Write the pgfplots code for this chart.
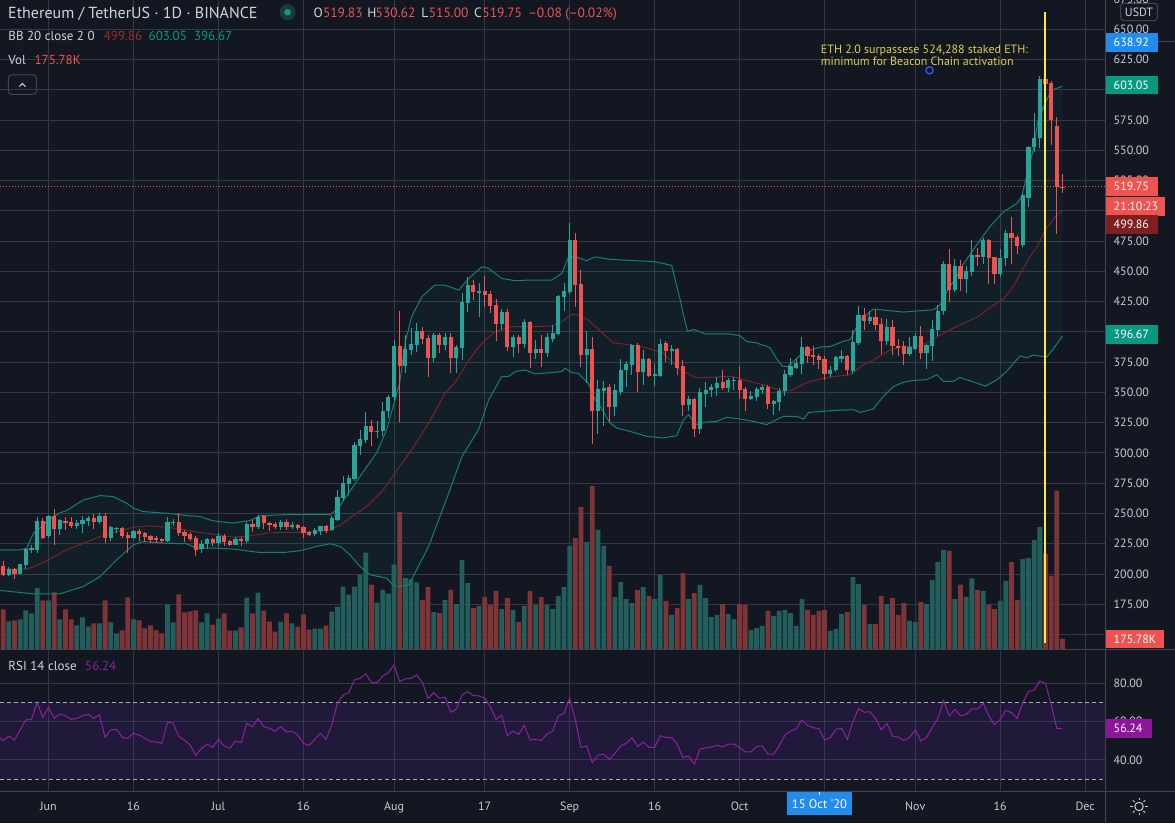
\documentclass[border=0pt]{standalone}
\usepackage{fontspec}
\setmainfont{PT Sans}
\usepackage{pgfplots}
\pgfplotsset{compat=1.18}
\usepackage{pgfplotstable}

\definecolor{bg}{RGB}{19,23,34}
\definecolor{gridc}{RGB}{52,56,68}
\definecolor{sepc}{RGB}{67,70,81}
\definecolor{axtext}{RGB}{200,203,210}
\definecolor{hdtext}{RGB}{209,212,220}
\definecolor{upc}{RGB}{38,166,154}
\definecolor{dnc}{RGB}{239,83,80}
\definecolor{volup}{RGB}{33,94,92}
\definecolor{voldn}{RGB}{127,52,56}
\definecolor{bbband}{RGB}{22,128,112}
\definecolor{bbmid}{RGB}{118,36,39}
\definecolor{bbfillc}{RGB}{34,171,148}
\definecolor{tealbox}{RGB}{8,153,129}
\definecolor{midbox}{RGB}{128,31,31}
\definecolor{midtxt}{RGB}{150,45,45}
\definecolor{bluebox}{RGB}{33,140,235}
\definecolor{rsiline}{RGB}{140,34,158}
\definecolor{rsibox}{RGB}{142,21,153}
\definecolor{rsiband}{RGB}{112,43,194}
\definecolor{dashc}{RGB}{170,173,182}
\definecolor{annot}{RGB}{222,208,72}
\definecolor{yline}{RGB}{255,235,59}
\definecolor{dotbg}{RGB}{28,56,58}
\definecolor{circblue}{RGB}{41,98,255}

\newcommand{\fs}[1]{\fontsize{#1pt}{#1pt}\selectfont}

\pgfplotstableread{
i O H L C V
-7 199.3 205.5 198.0 204.5 476
-5 200.4 208.6 199.8 208.1 511
-4 207.5 221.9 204.2 221.0 666
-3 220.0 224.0 217.2 221.2 614
-2 219.7 247.5 217.7 244.2 1049
0 231.0 249.0 230.0 248.0 838
2 237.0 245.5 232.3 244.7 511
5 240.0 244.7 237.3 242.5 408
6 241.4 248.0 234.0 244.7 545
7 243.9 248.0 240.0 246.6 390
9 242.8 250.2 241.4 248.0 442
11 229.8 239.8 227.4 238.7 459
12 237.4 239.2 233.7 238.4 270
15 230.1 236.4 229.0 235.6 511
21 227.4 247.5 226.8 243.3 769
22 242.0 245.3 239.8 243.2 459
27 220.5 228.4 217.7 225.0 456
28 224.5 229.7 220.9 228.7 614
30 225.3 233.8 223.0 231.6 521
33 224.2 230.5 223.6 229.1 315
35 226.9 242.6 226.0 241.5 882
37 238.5 249.0 237.1 247.0 968
41 239.1 244.3 236.0 243.0 470
43 239.1 242.6 237.1 240.7 442
47 233.0 238.0 231.6 236.0 349
48 235.2 240.0 232.4 239.4 349
50 236.0 247.6 235.2 245.9 642
51 244.8 269.6 243.4 263.6 728
52 262.8 280.7 260.0 275.2 1072
53 274.5 282.1 265.5 279.3 934
54 278.7 309.0 277.0 306.3 1072
55 305.5 319.2 298.6 311.8 1278
56 311.0 334.1 308.0 322.6 1656
58 317.0 326.1 312.4 318.4 796
59 317.9 341.8 313.7 335.0 1020
60 334.4 348.2 328.9 346.3 951
61 346.3 393.7 342.7 388.1 1453
63 372.2 397.4 366.4 385.9 1221
64 385.1 403.0 381.0 390.0 1204
65 389.2 407.1 383.7 400.8 1147
68 378.8 398.8 375.5 397.4 636
70 389.2 398.8 385.0 396.1 843
72 378.8 389.2 365.8 387.8 774
73 387.0 431.8 376.8 425.0 1531
74 424.1 445.6 416.7 438.7 1135
76 432.4 440.1 412.6 433.8 740
80 406.5 418.6 401.6 416.2 688
82 387.8 397.4 379.6 396.1 671
84 390.0 410.6 386.5 408.4 740
86 382.9 393.3 377.4 385.9 757
88 382.9 398.8 379.6 396.1 757
89 394.2 405.7 392.0 398.8 688
90 398.3 430.5 397.4 429.6 912
91 429.1 440.1 417.5 434.0 1066
92 433.2 489.6 431.0 475.8 1772
95 381.3 401.0 358.0 386.2 1840
97 335.0 360.6 316.0 353.1 2047
98 351.6 359.8 322.6 353.7 1772
100 337.7 357.0 330.3 351.8 894
101 350.4 377.7 347.7 368.9 1152
102 368.3 375.7 354.5 373.8 860
103 373.0 390.1 364.7 389.0 791
105 366.7 385.4 355.9 378.0 1066
107 363.9 373.8 355.1 365.5 860
108 363.9 394.5 362.8 390.1 1273
110 384.6 389.5 372.4 386.2 585
113 339.9 347.4 335.0 344.9 860
115 320.1 353.7 315.9 350.1 1101
116 349.0 358.7 337.7 352.3 877
117 351.8 357.0 346.0 354.5 550
118 353.7 362.5 346.8 357.8 585
120 353.7 362.0 350.1 360.6 602
121 359.8 362.5 351.8 360.6 516
124 344.9 351.0 343.5 346.8 327
125 346.0 354.2 343.2 353.1 361
126 352.3 356.5 349.0 354.2 396
128 340.7 344.0 331.6 342.7 568
129 341.8 353.6 334.4 351.4 654
130 350.9 368.8 347.3 365.5 671
131 364.6 378.4 363.0 371.5 619
132 370.2 377.6 369.3 374.3 396
133 373.7 395.5 365.5 387.2 860
138 365.5 371.5 362.7 368.8 310
139 368.2 379.8 366.8 379.0 344
140 377.9 384.7 375.1 379.8 602
142 367.9 401.8 365.5 391.3 1238
143 390.8 421.6 389.0 414.2 1118
145 409.2 417.5 406.7 412.3 430
148 392.2 410.6 389.4 404.0 774
152 382.0 395.5 379.8 387.2 482
153 386.1 399.0 385.3 396.8 464
155 382.5 390.0 369.6 388.9 774
156 388.0 409.5 376.2 402.6 1187
157 401.8 421.9 396.3 417.5 1496
158 416.9 458.8 414.2 456.3 1703
160 434.8 460.4 432.6 454.6 860
162 443.9 454.6 432.0 450.5 894
163 449.5 475.9 446.0 463.2 1213
165 462.1 477.9 456.3 475.9 998
168 447.7 468.3 445.0 460.8 826
169 460.8 484.4 454.6 482.0 1170
172 471.7 514.8 470.0 513.0 1548
173 511.0 553.6 503.3 552.5 1565
174 552.5 580.9 548.9 559.8 1875
175 559.8 611.3 551.6 608.9 2098
}\candleup

\pgfplotstableread{
i O H L C V
-8 206.7 211.1 198.5 199.3 683
-6 204.2 205.0 196.3 200.1 494
-1 244.2 246.0 229.0 230.1 838
1 248.0 253.5 224.3 237.0 975
3 244.2 247.5 236.0 242.0 683
4 242.8 247.5 237.8 239.8 511
8 246.0 249.4 237.3 242.8 442
10 248.0 250.2 226.0 229.6 838
13 238.4 239.2 229.6 231.5 322
14 232.3 235.0 217.7 230.1 889
16 235.6 237.0 227.4 233.2 494
17 234.3 235.0 226.8 230.4 356
18 231.8 232.3 226.0 228.2 408
19 229.6 231.0 225.4 228.5 322
20 229.0 230.0 225.4 227.4 270
23 243.3 250.2 231.8 234.3 941
24 235.0 236.4 226.8 231.5 631
25 232.9 235.0 227.4 228.8 648
26 229.6 231.5 215.0 220.0 666
29 228.7 229.7 223.0 225.3 418
31 231.6 232.7 223.0 226.1 614
32 226.9 228.3 223.3 224.2 315
34 229.1 230.2 223.0 226.9 373
36 241.5 244.3 234.4 238.5 614
38 247.6 249.0 237.0 242.0 659
39 242.0 242.8 235.2 240.7 470
40 241.5 242.6 237.1 238.8 298
42 243.0 245.6 236.6 238.8 614
44 240.7 241.5 236.6 238.0 384
45 238.8 240.0 229.4 233.9 597
46 234.4 235.2 231.0 232.1 332
49 239.4 240.7 233.9 235.8 401
57 322.6 327.5 305.5 317.0 1106
62 388.1 417.1 325.3 372.2 2356
66 400.8 403.8 390.0 394.2 843
67 395.3 397.4 362.5 378.8 1066
69 397.4 399.4 382.9 389.2 619
71 396.1 398.8 366.4 378.8 1015
75 438.7 442.8 426.3 432.7 705
77 433.8 446.1 420.3 430.5 894
78 431.3 433.8 415.3 421.7 757
79 422.2 427.2 392.8 406.5 998
81 416.2 418.6 384.5 387.8 877
83 396.1 397.4 382.9 390.0 464
85 408.4 409.3 370.0 382.9 998
87 385.9 397.4 371.3 382.9 894
93 475.8 481.9 420.3 438.7 1909
94 439.5 451.0 371.3 381.3 2442
96 386.2 395.6 307.7 335.0 2804
99 354.2 357.0 325.3 337.7 1428
104 389.0 390.9 350.4 366.7 1015
106 378.0 378.5 362.8 363.9 912
109 390.9 392.8 375.2 384.6 826
111 386.2 386.8 364.7 370.2 705
112 371.6 377.1 330.8 339.9 1307
114 344.9 345.5 312.9 320.1 963
119 358.4 368.9 351.8 353.7 774
122 360.6 371.6 344.9 352.3 774
123 353.1 354.2 334.4 344.9 757
127 354.2 356.5 336.3 340.7 654
134 387.2 388.6 374.3 380.3 671
135 381.2 388.0 372.9 379.0 585
136 379.8 382.0 369.6 377.0 654
137 377.9 380.3 360.5 365.5 671
141 379.8 381.2 364.1 368.2 636
144 414.2 419.7 401.2 408.7 757
146 412.3 418.3 401.8 405.9 430
147 406.5 411.4 382.0 392.2 912
149 404.0 410.0 380.6 388.0 877
150 388.6 394.4 380.3 386.7 585
151 388.0 392.7 372.9 382.0 791
154 396.8 405.1 377.9 382.5 808
159 456.3 468.7 424.4 434.8 1686
161 454.6 459.6 433.4 443.9 1109
164 463.2 469.0 454.6 461.5 1015
166 475.9 476.9 439.2 460.8 757
167 461.5 462.1 439.2 447.7 688
170 482.0 495.0 456.3 477.9 1496
171 478.6 480.3 464.2 471.1 843
176 608.9 624.3 577.0 604.4 1634
177 605.5 607.6 554.4 575.0 1256
178 570.0 577.3 481.3 519.8 2726
179 519.83 530.62 515.00 519.75 175.78
}\candledn

\pgfplotsset{
  pane/.style={anchor=south west, scale only axis, width=1105pt, xmin=-8.561, xmax=186.5},
  gridpane/.style={axis line style={draw=none}, major tick length=0pt,
    xtick={0,15,30,45,61,77,92,107,122,137,153,168,183},
    xmajorgrids, ymajorgrids, major grid style={draw=gridc, line width=1pt},
    yticklabel pos=right,
    yticklabel style={anchor=west, inner sep=0pt, xshift=8.5pt, text=axtext, font=\fs{12}}},
}

\begin{document}
\begin{tikzpicture}
\useasboundingbox (0pt,0pt) rectangle (1175pt,823pt);
\fill[bg] (0pt,0pt) rectangle (1175pt,823pt);

% ---------- price pane: grid and scale ----------
\begin{axis}[pane, gridpane, at={(0pt,174pt)}, height=649pt,
  ymin=138.06, ymax=674.2, ytick={150,175,...,650},
  yticklabels={{},175.00,200.00,225.00,250.00,275.00,300.00,325.00,350.00,375.00,{},425.00,450.00,475.00,{},525.00,550.00,575.00,{},625.00,650.00},
  xticklabels=\empty]
\end{axis}

% ---------- volume ----------
\begin{axis}[pane, at={(0pt,174pt)}, height=649pt, ymin=0, ymax=11163, hide axis]
\addplot[ybar, bar width=4.8pt, bar shift=0pt, fill=volup, draw=none] table[x=i, y=V]{\candleup};
\addplot[ybar, bar width=4.8pt, bar shift=0pt, fill=voldn, draw=none] table[x=i, y=V]{\candledn};
\end{axis}

% ---------- Bollinger bands and candles ----------
\begin{axis}[pane, at={(0pt,174pt)}, height=649pt, ymin=138.06, ymax=674.2, hide axis]
\addplot[fill opacity=0.06, draw=none, fill=bbfillc] coordinates {
(-8.56,220) (-5,220) (-3.85,221.3) (-2.67,233.7) (-1,240) (0,244.7) (2,250.5) (3.2,252.5)
(6.15,261.2) (9.1,264.8) (11.4,264) (13.8,258.5) (15,254.4) (16.7,251.6) (20.9,250.2)
(24.4,248.3) (26.7,247.6) (28.5,244.7) (29.7,243.5) (32.6,242.1) (35.6,244.3) (37.3,248.1)
(41.5,249) (44.4,249) (47.3,249) (49.7,249) (50.9,253.1) (52.6,264.1) (55,280.7)
(57.9,300) (59.7,319.3) (62,357.8) (63,392) (64.1,412.6) (65.9,429) (68.2,438.7) (70,438.7)
(72.4,434.6) (74.2,444.2) (76.5,453.8) (77.7,452.5) (80,444.2) (82.4,442.3) (84.7,442.8)
(88.8,442.8) (90.6,448.3) (91.8,462) (93.2,462) (95,458.8) (96.5,462) (99,460) (103,459)
(107,458) (110,455) (110.8,440) (111.5,426.7) (112,415.7) (112.8,400.6) (113.9,402)
(116,398.3) (120.3,398.3) (122,397) (123.2,392.3) (125,390.9) (126.8,388.1) (127.4,386.7)
(128.5,378) (129.6,371.5) (130.5,371.5) (133.3,383.1) (136.2,387.5) (138,388) (140.3,392.2)
(141.5,393.5) (143.3,410) (145.6,418.9) (148,417.8) (150.9,416.4) (153.8,417.5) (156.2,418.3)
(157.4,422.4) (158.6,433.4) (160.3,445.8) (161.5,456) (163.3,468.3) (166.2,487.2)
(168.6,499.2) (170.9,506) (171.8,512) (173.8,550) (174.7,575) (175.9,588.5) (177,599.5)
(179,603.05)
(179,396.67) (177.4,386) (176.2,379.2) (173.8,380.9) (172.7,378.5) (171.5,380.2) (169.1,367.2)
(167.4,360.3) (165.4,355.2) (163.3,358.6) (160.9,362.3) (159.7,359.1) (158,359.1) (156.8,364.6)
(155,360.5) (152.7,360) (150.9,358.3) (149.2,355) (147.4,346.8) (145.6,336.3) (143.3,333.5)
(142.1,335.7) (139.1,335.2) (134.2,333.5) (133.3,328) (132.1,330.2) (129.7,330.2) (126.8,323.4)
(124.4,326.1) (122,328.1) (119.7,329.4) (118,326.1) (116.2,325.6) (114.2,323.4) (113,331.7)
(112.1,327.5) (110.9,314.3) (108.5,312.4) (105.6,313.7) (102.6,317.9) (100.3,320.6) (99.1,324.8)
(97.4,338.5) (96.5,343.8) (95.3,357.6) (93.5,365.8) (92.3,366.4) (91.2,370) (90.6,367.2)
(88.8,366.4) (85.9,365.3) (84.1,368.6) (82.4,367.2) (81.2,363.1) (80,363.1) (77.7,343.8)
(75.9,319.1) (73,297.1) (70,258.6) (67.1,222.8) (64.1,195.3) (63.5,191) (62,189.7) (60.9,190.3)
(59.7,196.6) (56.8,199.3) (55,206.2) (53.2,215.9) (51.5,222.8) (49.7,225) (47.3,222.8)
(44.4,219.2) (41.5,217.8) (37.3,217.8) (32.6,220.6) (29.7,221.4) (26.1,221.3) (24.4,225)
(20.9,225.4) (16.7,226.8) (14.97,224) (12.03,211.7) (9.1,197.9) (6.15,189.7) (2.03,183.6)
(-2.67,183.6) (-8.56,186.4)};
\addplot[bbband, line width=1pt] coordinates {
(-8.56,220) (-5,220) (-3.85,221.3) (-2.67,233.7) (-1,240) (0,244.7) (2,250.5) (3.2,252.5)
(6.15,261.2) (9.1,264.8) (11.4,264) (13.8,258.5) (15,254.4) (16.7,251.6) (20.9,250.2)
(24.4,248.3) (26.7,247.6) (28.5,244.7) (29.7,243.5) (32.6,242.1) (35.6,244.3) (37.3,248.1)
(41.5,249) (44.4,249) (47.3,249) (49.7,249) (50.9,253.1) (52.6,264.1) (55,280.7)
(57.9,300) (59.7,319.3) (62,357.8) (63,392) (64.1,412.6) (65.9,429) (68.2,438.7) (70,438.7)
(72.4,434.6) (74.2,444.2) (76.5,453.8) (77.7,452.5) (80,444.2) (82.4,442.3) (84.7,442.8)
(88.8,442.8) (90.6,448.3) (91.8,462) (93.2,462) (95,458.8) (96.5,462) (99,460) (103,459)
(107,458) (110,455) (110.8,440) (111.5,426.7) (112,415.7) (112.8,400.6) (113.9,402)
(116,398.3) (120.3,398.3) (122,397) (123.2,392.3) (125,390.9) (126.8,388.1) (127.4,386.7)
(128.5,378) (129.6,371.5) (130.5,371.5) (133.3,383.1) (136.2,387.5) (138,388) (140.3,392.2)
(141.5,393.5) (143.3,410) (145.6,418.9) (148,417.8) (150.9,416.4) (153.8,417.5) (156.2,418.3)
(157.4,422.4) (158.6,433.4) (160.3,445.8) (161.5,456) (163.3,468.3) (166.2,487.2)
(168.6,499.2) (170.9,506) (171.8,512) (173.8,550) (174.7,575) (175.9,588.5) (177,599.5)
(179,603.05)};
\addplot[bbband, line width=1pt] coordinates {
(-8.56,186.4) (-2.67,183.6) (2.03,183.6) (6.15,189.7) (9.1,197.9) (12.03,211.7) (14.97,224)
(16.7,226.8) (20.9,225.4) (24.4,225) (26.1,221.3) (29.7,221.4) (32.6,220.6) (37.3,217.8)
(41.5,217.8) (44.4,219.2) (47.3,222.8) (49.7,225) (51.5,222.8) (53.2,215.9) (55,206.2)
(56.8,199.3) (59.7,196.6) (60.9,190.3) (62,189.7) (63.5,191) (64.1,195.3) (67.1,222.8)
(70,258.6) (73,297.1) (75.9,319.1) (77.7,343.8) (80,363.1) (81.2,363.1) (82.4,367.2)
(84.1,368.6) (85.9,365.3) (88.8,366.4) (90.6,367.2) (91.2,370) (92.3,366.4) (93.5,365.8)
(95.3,357.6) (96.5,343.8) (97.4,338.5) (99.1,324.8) (100.3,320.6) (102.6,317.9)
(105.6,313.7) (108.5,312.4) (110.9,314.3) (112.1,327.5) (113,331.7) (114.2,323.4)
(116.2,325.6) (118,326.1) (119.7,329.4) (122,328.1) (124.4,326.1) (126.8,323.4)
(129.7,330.2) (132.1,330.2) (133.3,328) (134.2,333.5) (139.1,335.2) (142.1,335.7)
(143.3,333.5) (145.6,336.3) (147.4,346.8) (149.2,355) (150.9,358.3) (152.7,360) (155,360.5)
(156.8,364.6) (158,359.1) (159.7,359.1) (160.9,362.3) (163.3,358.6) (165.4,355.2)
(167.4,360.3) (169.1,367.2) (171.5,380.2) (172.7,378.5) (173.8,380.9) (176.2,379.2)
(177.4,386) (179,396.67)};
\addplot[bbmid, line width=1pt] coordinates {
(-8.56,204) (-3.85,204) (-2.67,206) (0,211.7) (2,217) (3.2,220) (6.15,225.4) (9.1,231)
(12,235) (15,238.7) (17.9,239.8) (20.9,238.7) (23.8,236.5) (26.7,234.4) (29.7,232.4)
(32.6,230.5) (35.6,231.6) (38.5,233.8) (41.5,234.4) (44.4,234.4) (47.3,234.6) (49.7,236.6)
(51.5,240.2) (53.2,246.2) (56.2,255.9) (59.1,269.6) (62,288.9) (64.1,302.6) (67.1,324.6)
(70,349.3) (72.1,360.3) (74.2,376.8) (76.5,390.6) (78.8,400.2) (81.8,404.3) (84.7,404.3)
(88.8,404.9) (90.6,408.5) (92.3,414.5) (93.5,414) (95.3,409.8) (96.8,403.3) (99.7,390.9)
(102.6,389.5) (105.6,386.8) (108.5,382.6) (111.5,368.9) (113.2,364.7) (114.4,362)
(116.2,362.5) (118.6,362.8) (120.3,363.3) (122,362) (123.2,359.8) (125,357.8) (126.8,355.6)
(129.7,350.9) (131.5,352.3) (133.9,358.3) (136.2,361.1) (139.1,363.3) (141.5,364.6)
(143.9,372.9) (146.2,378.4) (148.6,385.3) (150.9,388) (153.3,388) (155.6,392.2) (158,399)
(160.5,405) (163.8,411.8) (166.8,422) (168.6,427.2) (170.3,437.5) (172.1,452.9) (173.8,466)
(174.6,471) (176,484.7) (177.8,495.6) (179,499.86)};
\draw[dnc, line width=1pt, dash pattern=on 1pt off 2pt] (axis cs:-8.561,519.75) -- (axis cs:186.5,519.75);
% wicks
\addplot[draw=none, forget plot, error bars/.cd, y dir=plus, y explicit, error mark=none,
  error bar style={line width=1pt, draw=upc, solid}]
  table[x=i, y=L, y error plus expr={\thisrow{H}-\thisrow{L}}]{\candleup};
\addplot[draw=none, forget plot, error bars/.cd, y dir=plus, y explicit, error mark=none,
  error bar style={line width=1pt, draw=dnc, solid}]
  table[x=i, y=L, y error plus expr={\thisrow{H}-\thisrow{L}}]{\candledn};
% bodies
\addplot[draw=none, forget plot, error bars/.cd, y dir=plus, y explicit, error mark=none,
  error bar style={line width=4.2pt, draw=upc, solid}]
  table[x=i, y=O, y error plus expr={\thisrow{C}-\thisrow{O}}]{\candleup};
\addplot[draw=none, forget plot, error bars/.cd, y dir=plus, y explicit, error mark=none,
  error bar style={line width=4.2pt, draw=dnc, solid}]
  table[x=i, y=C, y error plus expr={\thisrow{O}-\thisrow{C}}]{\candledn};
\draw[yline, line width=2pt] (axis cs:175.9,664) -- (axis cs:175.9,143);
\end{axis}

% ---------- RSI pane ----------
\begin{axis}[pane, gridpane, at={(0pt,31.5pt)}, height=140.5pt,
  ymin=23.56, ymax=96.85, ytick={40,60,80}, yticklabels={40.00,60.00,80.00},
  xticklabels={Jun,16,Jul,16,Aug,17,Sep,16,Oct,{},Nov,16,Dec},
  xticklabel style={anchor=base, inner sep=0pt, yshift=-18.8pt, text=axtext, font=\fs{12}}]
\fill[rsiband, fill opacity=0.15] (axis cs:-8.561,30) rectangle (axis cs:186.5,70);
\draw[dashc, line width=1pt, dash pattern=on 4pt off 3pt] (axis cs:-8.561,70) -- (axis cs:186.5,70);
\draw[dashc, line width=1pt, dash pattern=on 4pt off 3pt] (axis cs:-8.561,30) -- (axis cs:186.5,30);
\addplot[rsiline, line width=1pt] coordinates {
(-9,52.5) (-8,50.1) (-7,52.5) (-6,50.4) (-5,55.7) (-4,60.9) (-3,61.2) (-2,70.1) (-1,62.1)
(0,67.5) (1,61.7) (2,64) (3,63.1) (4,61.2) (5,61.7) (6,63) (7,63.8) (8,61.7) (9,63.5)
(10,51.8) (11,55.7) (12,56) (13,51.8) (14,51.3) (15,53.9) (16,53) (17,51.3) (18,49.6)
(19,49.4) (20,48.7) (21,59.5) (22,59.3) (23,52.2) (24,50.4) (25,47.8) (26,42.4) (27,46.1)
(28,48.3) (29,46.6) (30,50.8) (31,47.3) (32,46.1) (33,49.9) (34,49) (35,59.1) (36,57.4)
(37,61.7) (38,57.4) (39,56.5) (40,55) (41,57.4) (42,54.6) (43,55) (44,53) (45,48.7)
(46,47.5) (47,50.8) (48,53.9) (49,50.8) (50,58.3) (51,69.6) (52,73.9) (53,75.1) (54,81.7)
(55,82.6) (56,84.9) (57,80.5) (58,80.3) (59,83.8) (60,85.6) (61,89.6) (62,80.9) (63,82.3)
(64,82.6) (65,84.3) (66,80.5) (67,72.2) (68,75.1) (69,72.2) (70,72.7) (71,64.9) (72,66.6)
(73,73.9) (74,75.7) (75,73.6) (76,73.4) (77,72.2) (78,67.8) (79,61.2) (80,63.3) (81,52.7)
(82,55.1) (83,53.4) (84,58.1) (85,50.4) (86,50.8) (87,50.1) (88,53.6) (89,55) (90,63.1)
(91,64.3) (92,72.2) (93,60.9) (94,46.6) (95,47.3) (96,38.6) (97,42.6) (98,43) (99,40.3)
(100,43.5) (101,47.3) (102,48.7) (103,51.7) (104,47) (105,49.4) (106,46.6) (107,46.6)
(108,52.7) (109,51.7) (110,51.7) (111,48.2) (112,41.2) (113,42.1) (114,37.7) (115,45.7)
(116,46.3) (117,46.8) (118,47.7) (119,46.8) (120,48.3) (121,48.3) (122,46.6) (123,44.2)
(124,44.2) (125,47) (126,47.3) (127,43) (128,43) (129,47.5) (130,53) (131,55.1) (132,56.3)
(133,60.9) (134,57.9) (135,56.9) (136,56.3) (137,50.4) (138,51.7) (139,56) (140,56.5)
(141,50.8) (142,60) (143,66.8) (144,64.9) (145,65.2) (146,61.7) (147,55.7) (148,59.1)
(149,52.5) (150,52) (151,50.1) (152,51.7) (153,55.7) (154,49.9) (155,51.8) (156,57)
(157,61.7) (158,71) (159,63) (160,66.4) (161,63) (162,63.8) (163,66.6) (164,66.6)
(165,69.6) (166,63.1) (167,58.3) (168,61.2) (169,65.9) (170,64.7) (171,61.7) (172,69.9)
(173,75.7) (174,76.5) (175,81.2) (176,80) (177,68.7) (178,56.5) (179,56.24)};
\end{axis}

% ---------- overlay texts and labels (pixel coordinates, y down) ----------
\begin{scope}[shift={(0pt,823pt)}, x=1pt, y=-1pt]
\draw[sepc, line width=1pt] (0,649.8) -- (1175,649.8);
\draw[sepc, line width=1pt] (0,791.5) -- (1175,791.5);
\draw[sepc, line width=1pt] (1105.5,0) -- (1105.5,823);
\node[anchor=base west, inner sep=0pt, text=hdtext, font=\fs{16}] at (8,18.3) {Ethereum / TetherUS · 1D · BINANCE};
\fill[dotbg] (287.5,12.3) circle[radius=8];
\fill[tealbox] (287.5,12.3) circle[radius=3.4];
\begin{scope}[every node/.style={anchor=base west, inner sep=0pt, font=\fs{13.5}}]
\node[text=hdtext] at (313.3,17.5) {O};
\node[text=dnc] at (322.8,17.5) {519.83};
\node[text=hdtext] at (367.2,17.5) {H};
\node[text=dnc] at (375.5,17.5) {530.62};
\node[text=hdtext] at (421.2,17.5) {L};
\node[text=dnc] at (428.6,17.5) {515.00};
\node[text=hdtext] at (473.9,17.5) {C};
\node[text=dnc] at (482.2,17.5) {519.75};
\node[text=dnc] at (527.8,17.5) {–0.08 (–0.02\%)};
\end{scope}
\begin{scope}[every node/.style={anchor=base west, inner sep=0pt, font=\fs{13}}]
\node[text=hdtext] at (8.3,40.5) {BB 20 close 2 0};
\node[text=midtxt] at (103.7,40.5) {499.86};
\node[text=tealbox] at (148.5,40.5) {603.05};
\node[text=tealbox] at (193.8,40.5) {396.67};
\node[text=hdtext] at (8.3,65) {Vol};
\node[text=dnc] at (34.4,65) {175.78K};
\node[text=hdtext] at (8.3,670.5) {RSI 14 close};
\node[text=rsiline] at (85,670.5) {56.24};
\end{scope}
\draw[sepc, line width=1pt, rounded corners=3pt] (8.3,75) rectangle (36.5,94.3);
\draw[hdtext, line width=1pt] (19.4,86.6) -- (22.4,83.4) -- (25.4,86.6);
\begin{scope}[every node/.style={anchor=base west, inner sep=0pt, font=\fs{12}, text=annot}]
\node at (820.7,54) {ETH 2.0 surpassese 524,288 staked ETH:};
\node at (820.7,65.7) {minimum for Beacon Chain activation};
\end{scope}
\draw[circblue, line width=1.2pt] (929.5,70.3) circle[radius=3.6];
\draw[sepc, line width=1pt, rounded corners=3pt] (1120.7,3.3) rectangle (1157.3,20.7);
\node[text=hdtext, font=\fs{12}, inner sep=0pt] at (1139,12.2) {USDT};
\node[anchor=west, inner sep=0pt, text=axtext, font=\fs{12}] at (1113.5,-1) {675.00};
\draw[sepc, line width=1pt] (1157.7,41.8) -- (1175,41.8);
\newcommand{\rlab}[4]{\fill[#2] (1105.5,{#1-9.3}) rectangle (#4,{#1+9.3});
  \node[anchor=west, inner sep=0pt, text=white, font=\fs{12}] at (1113.5,#1) {#3};}
\rlab{42.7}{bluebox}{638.92}{1157.7}
\rlab{85.2}{tealbox}{603.05}{1157.7}
\rlab{334.5}{tealbox}{396.67}{1157.7}
\rlab{186.6}{dnc}{519.75}{1157.7}
\rlab{206.6}{dnc}{21:10:23}{1165}
\rlab{224.6}{midbox}{499.86}{1157.7}
\rlab{638.8}{dnc}{175.78K}{1164}
\rlab{728.5}{rsibox}{56.24}{1151.6}
\fill[bluebox] (787,791.7) rectangle (852,815);
\node[text=white, font=\fs{12.5}, inner sep=0pt] at (819.5,804) {15 Oct \textquotesingle20};
\draw[white, line width=1pt] (819.5,791.7) -- (819.5,795);
\draw[axtext, line width=1pt] (1139,806.5) circle[radius=4.2];
\foreach \a in {0,45,...,315} \draw[axtext, line width=1pt] (1139,806.5) ++(\a:6.3) -- ++(\a:2.4);
\end{scope}
\end{tikzpicture}
\end{document}
